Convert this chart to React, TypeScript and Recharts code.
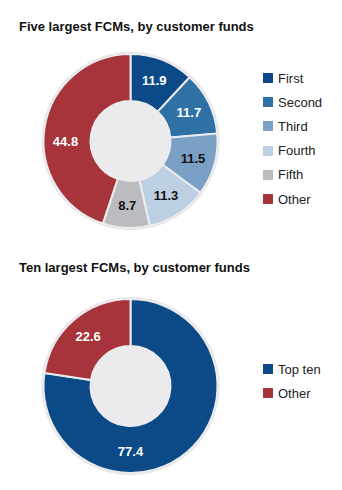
import React from 'react';
import { PieChart, Pie, Cell, Legend } from 'recharts';

// five largest FCMs, share of customer funds (%)
const fiveNames = ['First', 'Second', 'Third', 'Fourth', 'Fifth', 'Other'];
const fiveValues = [11.9, 11.7, 11.5, 11.3, 8.7, 44.8];
const fiveColors = ['#0b4a86', '#2f71a5', '#7ba0c6', '#bdd0e3', '#bbbcc0', '#a7333b'];
const fiveLabelColors = ['#fff', '#fff', '#111', '#111', '#111', '#fff'];

// ten largest FCMs
const tenNames = ['Top ten', 'Other'];
const tenValues = [77.4, 22.6];
const tenColors = ['#0b4a86', '#a7333b'];
const tenLabelColors = ['#fff', '#fff'];

const FONT = '"Liberation Sans", Arial, Helvetica, sans-serif';
const RAD = Math.PI / 180;
const OUTER = 87;
const INNER = 40;

const makeLabel = (labelColors: string[]) => (props: any) => {
  const { cx, cy, midAngle, percent, index, value } = props;
  // big slices get their label snapped to the nearest quarter
  const angle = percent > 0.3 ? Math.round(midAngle / 90) * 90 : midAngle;
  const r = 65;
  const x = cx + r * Math.cos(-angle * RAD);
  const y = cy + r * Math.sin(-angle * RAD);
  return (
    <text
      x={x}
      y={y}
      fill={labelColors[index]}
      textAnchor="middle"
      dominantBaseline="central"
      fontFamily={FONT}
      fontWeight="bold"
      fontSize={13}
    >
      {value.toFixed(1)}
    </text>
  );
};

const makeLegend = (names: string[], colors: string[]) => () => (
  <div style={{ fontFamily: FONT, fontSize: 13, color: '#222' }}>
    {names.map((n, i) => (
      <div key={n} style={{ display: 'flex', alignItems: 'center', height: 24.2 }}>
        <span
          style={{ width: 10, height: 10, background: colors[i], marginRight: 5, display: 'inline-block' }}
        />
        <span>{n}</span>
      </div>
    ))}
  </div>
);

interface DonutProps {
  names: string[];
  values: number[];
  colors: string[];
  labelColors: string[];
  title: string;
  top: number;
  titleTop: number;
  legendTop: number;
}

const Donut: React.FC<DonutProps> = ({ names, values, colors, labelColors, title, top, titleTop, legendTop }) => {
  const data = names.map((name, i) => ({ name, value: values[i] }));
  return (
    <div style={{ position: 'absolute', left: 0, top, width: 342, height: 245 }}>
      <div
        style={{
          position: 'absolute',
          left: 19,
          top: titleTop,
          fontFamily: FONT,
          fontWeight: 'bold',
          fontSize: 13,
          color: '#111',
          whiteSpace: 'nowrap',
        }}
      >
        {title}
      </div>
      <PieChart width={342} height={245} margin={{ top: 0, right: 0, bottom: 0, left: 0 }}>
        <Pie
          data={[{ value: 1 }]}
          dataKey="value"
          cx={130.5}
          cy={141}
          innerRadius={OUTER - 1}
          outerRadius={OUTER + 2}
          fill="#e3e3e5"
          stroke="none"
          isAnimationActive={false}
        />
        <Pie
          data={data}
          dataKey="value"
          nameKey="name"
          cx={130.5}
          cy={141}
          innerRadius={INNER}
          outerRadius={OUTER}
          startAngle={90}
          endAngle={-270}
          stroke="#ececee"
          strokeWidth={2}
          label={makeLabel(labelColors)}
          labelLine={false}
          isAnimationActive={false}
        >
          {data.map((d, i) => (
            <Cell key={d.name} fill={colors[i]} />
          ))}
        </Pie>
        <Pie
          data={[{ value: 1 }]}
          dataKey="value"
          cx={130.5}
          cy={141}
          innerRadius={0}
          outerRadius={INNER}
          fill="#ebebed"
          stroke="none"
          isAnimationActive={false}
        />
        <Legend
          layout="vertical"
          content={makeLegend(names, colors)}
          wrapperStyle={{ left: 263, top: legendTop, width: 80, right: 'auto', bottom: 'auto' }}
        />
      </PieChart>
    </div>
  );
};

export default function App() {
  return (
    <div style={{ position: 'absolute', left: 0, top: 0, width: 342, height: 490, background: '#fff' }}>
      <Donut
        names={fiveNames}
        values={fiveValues}
        colors={fiveColors}
        labelColors={fiveLabelColors}
        title="Five largest FCMs, by customer funds"
        top={0}
        titleTop={19}
        legendTop={66}
      />
      <Donut
        names={tenNames}
        values={tenValues}
        colors={tenColors}
        labelColors={tenLabelColors}
        title="Ten largest FCMs, by customer funds"
        top={245}
        titleTop={15}
        legendTop={112}
      />
    </div>
  );
}
